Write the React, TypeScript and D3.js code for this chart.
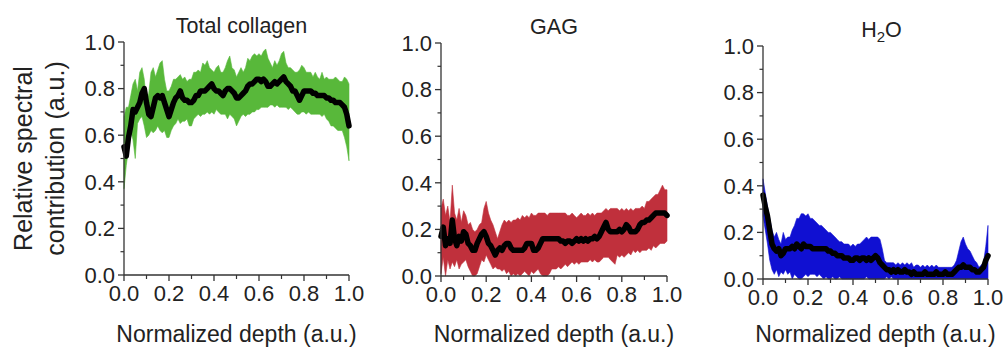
import React from "react";
import * as d3 from "d3";

// ---------- data (step 0.01 in normalized depth) ----------
const DEPTH = [
  0.0, 0.01, 0.02, 0.03, 0.04, 0.05, 0.06, 0.07, 0.08, 0.09,
  0.1, 0.11, 0.12, 0.13, 0.14, 0.15, 0.16, 0.17, 0.18, 0.19,
  0.2, 0.21, 0.22, 0.23, 0.24, 0.25, 0.26, 0.27, 0.28, 0.29,
  0.3, 0.31, 0.32, 0.33, 0.34, 0.35, 0.36, 0.37, 0.38, 0.39,
  0.4, 0.41, 0.42, 0.43, 0.44, 0.45, 0.46, 0.47, 0.48, 0.49,
  0.5, 0.51, 0.52, 0.53, 0.54, 0.55, 0.56, 0.57, 0.58, 0.59,
  0.6, 0.61, 0.62, 0.63, 0.64, 0.65, 0.66, 0.67, 0.68, 0.69,
  0.7, 0.71, 0.72, 0.73, 0.74, 0.75, 0.76, 0.77, 0.78, 0.79,
  0.8, 0.81, 0.82, 0.83, 0.84, 0.85, 0.86, 0.87, 0.88, 0.89,
  0.9, 0.91, 0.92, 0.93, 0.94, 0.95, 0.96, 0.97, 0.98, 0.99, 1.0,
];

const TICK_VALUES = [0, 0.2, 0.4, 0.6, 0.8, 1.0];
const TICK_LABELS = ["0.0", "0.2", "0.4", "0.6", "0.8", "1.0"];
const MINOR_TICKS = [0.1, 0.3, 0.5, 0.7, 0.9];

const COLLAGEN_MEAN = [
  0.55, 0.51, 0.59, 0.64, 0.71, 0.7, 0.72, 0.74, 0.78, 0.8,
  0.74, 0.69, 0.68, 0.72, 0.76, 0.77, 0.76, 0.77, 0.74, 0.71,
  0.68, 0.71, 0.74, 0.76, 0.77, 0.79, 0.76, 0.75, 0.75, 0.74,
  0.74, 0.75, 0.77, 0.77, 0.79, 0.79, 0.79, 0.8, 0.81, 0.82,
  0.8, 0.79, 0.79, 0.78, 0.77, 0.79, 0.8, 0.8, 0.79, 0.78,
  0.76, 0.76, 0.77, 0.78, 0.79, 0.81, 0.82, 0.82, 0.83, 0.84,
  0.84, 0.83, 0.84, 0.83, 0.81, 0.81, 0.82, 0.83, 0.82, 0.83,
  0.84, 0.85, 0.83, 0.82, 0.81, 0.79, 0.79, 0.77, 0.75, 0.77,
  0.79, 0.79, 0.79, 0.79, 0.78, 0.78, 0.77, 0.77, 0.77, 0.77,
  0.76, 0.76, 0.75, 0.75, 0.74, 0.74, 0.74, 0.73, 0.72, 0.69, 0.64,
];
const COLLAGEN_UPPER = [
  0.68, 0.72, 0.72, 0.77, 0.82, 0.84, 0.79, 0.87, 0.89, 0.84,
  0.74, 0.78, 0.87, 0.89, 0.85, 0.88, 0.91, 0.92, 0.84, 0.79,
  0.79, 0.81, 0.84, 0.84, 0.85, 0.86, 0.84, 0.85, 0.83, 0.84,
  0.84, 0.87, 0.87, 0.88, 0.87, 0.91, 0.9, 0.92, 0.89, 0.88,
  0.87, 0.89, 0.9, 0.87, 0.87, 0.89, 0.92, 0.94, 0.89, 0.88,
  0.85, 0.87, 0.89, 0.87, 0.89, 0.93, 0.92, 0.94, 0.95, 0.94,
  0.95, 0.94, 0.96, 0.97, 0.93, 0.91, 0.89, 0.92, 0.9, 0.92,
  0.95, 0.96, 0.91, 0.89, 0.89, 0.88, 0.87, 0.87, 0.88, 0.9,
  0.89, 0.87, 0.87, 0.87, 0.85, 0.87, 0.85, 0.84, 0.87, 0.84,
  0.85, 0.84, 0.84, 0.84, 0.85, 0.84, 0.83, 0.83, 0.85, 0.84, 0.82,
];
const COLLAGEN_LOWER = [
  0.37, 0.47, 0.54, 0.62, 0.58, 0.5, 0.65, 0.67, 0.68, 0.64,
  0.59, 0.6, 0.62, 0.61, 0.62, 0.64, 0.62, 0.61, 0.62, 0.59,
  0.59, 0.62, 0.64, 0.65, 0.67, 0.65, 0.66, 0.66, 0.67, 0.64,
  0.64, 0.67, 0.68, 0.69, 0.68, 0.69, 0.69, 0.7, 0.69, 0.7,
  0.69, 0.71, 0.7, 0.69, 0.69, 0.69, 0.67, 0.69, 0.68, 0.67,
  0.64, 0.66, 0.68, 0.69, 0.68, 0.69, 0.69, 0.7, 0.7, 0.71,
  0.71, 0.72, 0.72, 0.72, 0.72, 0.73, 0.73, 0.72, 0.73, 0.72,
  0.72, 0.72, 0.72, 0.71, 0.72, 0.71, 0.7, 0.69, 0.69, 0.7,
  0.7, 0.69, 0.7, 0.69, 0.69, 0.69, 0.69, 0.69, 0.68, 0.69,
  0.67, 0.66, 0.64, 0.64, 0.63, 0.62, 0.62, 0.62, 0.59, 0.55, 0.49,
];

const GAG_MEAN = [
  0.17, 0.21, 0.13, 0.16, 0.14, 0.24, 0.16, 0.13, 0.17, 0.15,
  0.19, 0.18, 0.14, 0.13, 0.11, 0.11, 0.14, 0.16, 0.18, 0.19,
  0.17, 0.14, 0.13, 0.11, 0.09, 0.11, 0.12, 0.11, 0.13, 0.14,
  0.14, 0.12, 0.11, 0.11, 0.11, 0.11, 0.11, 0.12, 0.14, 0.14,
  0.14, 0.11, 0.11, 0.12, 0.14, 0.16, 0.16, 0.16, 0.16, 0.16,
  0.16, 0.16, 0.16, 0.15, 0.15, 0.14, 0.15, 0.15, 0.14, 0.15,
  0.16, 0.15, 0.16, 0.15, 0.16, 0.15, 0.16, 0.16, 0.17, 0.16,
  0.17, 0.19, 0.21, 0.23, 0.2, 0.19, 0.19, 0.19, 0.19, 0.2,
  0.19, 0.2, 0.22, 0.21, 0.19, 0.19, 0.19, 0.2, 0.22, 0.23,
  0.23, 0.24, 0.24, 0.25, 0.26, 0.27, 0.27, 0.27, 0.27, 0.27, 0.26,
];
const GAG_UPPER = [
  0.29, 0.33, 0.26, 0.3, 0.23, 0.39, 0.27, 0.24, 0.29, 0.23,
  0.28, 0.26, 0.22, 0.23, 0.2, 0.19, 0.2, 0.22, 0.23, 0.29,
  0.32, 0.27, 0.24, 0.22, 0.19, 0.16, 0.19, 0.22, 0.24, 0.23,
  0.24, 0.23, 0.24, 0.24, 0.25, 0.24, 0.26, 0.25, 0.26, 0.25,
  0.27, 0.26, 0.26, 0.27, 0.27, 0.27, 0.27, 0.26, 0.27, 0.27,
  0.27, 0.27, 0.27, 0.27, 0.27, 0.27, 0.26, 0.26, 0.27, 0.26,
  0.25, 0.26, 0.27, 0.26, 0.26, 0.27, 0.26, 0.27, 0.26, 0.27,
  0.27, 0.27, 0.28, 0.29, 0.28, 0.29, 0.29, 0.29, 0.29, 0.28,
  0.29, 0.28, 0.29, 0.28, 0.29, 0.28, 0.29, 0.29, 0.29, 0.3,
  0.29, 0.32, 0.32, 0.33, 0.34, 0.35, 0.35, 0.37, 0.39, 0.37, 0.37,
];
const GAG_LOWER = [
  0.01, 0.08, 0.0, 0.07, 0.03, 0.06, 0.04, 0.07, 0.03, 0.05,
  0.06, 0.07, 0.04, 0.02, 0.0, 0.0, 0.01, 0.04, 0.07, 0.06,
  0.09, 0.07, 0.05, 0.03, 0.04, 0.03, 0.03, 0.02, 0.03, 0.01,
  0.02, 0.0, 0.01, 0.0, 0.01, 0.0, 0.01, 0.02, 0.01, 0.0,
  0.02, 0.01, 0.02, 0.03, 0.01, 0.0, 0.0, 0.0, 0.01, 0.03,
  0.03, 0.03, 0.04, 0.03, 0.04, 0.05, 0.04, 0.05, 0.06, 0.05,
  0.06, 0.05, 0.06, 0.06, 0.06, 0.06, 0.07, 0.06, 0.07, 0.06,
  0.06, 0.07, 0.08, 0.08, 0.08, 0.07, 0.06, 0.05, 0.09, 0.08,
  0.09, 0.08, 0.09, 0.1, 0.09, 0.11, 0.1, 0.11, 0.1, 0.11,
  0.11, 0.11, 0.12, 0.11, 0.13, 0.12, 0.13, 0.14, 0.14, 0.14, 0.15,
];

const H2O_MEAN = [
  0.36, 0.31, 0.27, 0.21, 0.15, 0.13, 0.12, 0.13, 0.1, 0.11,
  0.13, 0.13, 0.13, 0.14, 0.13, 0.15, 0.14, 0.13, 0.15, 0.14,
  0.14, 0.14, 0.13, 0.13, 0.13, 0.13, 0.13, 0.13, 0.13, 0.12,
  0.12, 0.11, 0.11, 0.1, 0.1, 0.1, 0.09, 0.09, 0.09, 0.08,
  0.08, 0.09, 0.09, 0.08, 0.09, 0.09, 0.08, 0.09, 0.08, 0.09,
  0.1, 0.09, 0.07, 0.06, 0.05, 0.04, 0.04, 0.03, 0.04, 0.03,
  0.04, 0.03, 0.03, 0.04, 0.03, 0.03, 0.02, 0.03, 0.02, 0.02,
  0.02, 0.02, 0.03, 0.02, 0.02, 0.02, 0.02, 0.03, 0.02, 0.02,
  0.02, 0.03, 0.02, 0.02, 0.02, 0.03, 0.04, 0.05, 0.05, 0.06,
  0.05, 0.05, 0.05, 0.04, 0.04, 0.03, 0.03, 0.04, 0.05, 0.08, 0.1,
];
const H2O_UPPER = [
  0.43, 0.37, 0.31, 0.26, 0.21, 0.18, 0.2, 0.17, 0.15, 0.2,
  0.17, 0.18, 0.18, 0.21, 0.23, 0.26, 0.26, 0.28, 0.28, 0.27,
  0.28, 0.26, 0.26, 0.25, 0.24, 0.23, 0.23, 0.22, 0.21, 0.2,
  0.2, 0.19, 0.18, 0.17, 0.16, 0.16, 0.15, 0.15, 0.15, 0.14,
  0.15, 0.14, 0.15, 0.15, 0.16, 0.17, 0.18, 0.17, 0.18, 0.18,
  0.18, 0.18, 0.17, 0.13, 0.08, 0.07, 0.07, 0.07, 0.07, 0.06,
  0.07, 0.06, 0.07, 0.06, 0.07, 0.06, 0.07, 0.05, 0.06, 0.06,
  0.05, 0.06, 0.05, 0.06, 0.05, 0.06, 0.05, 0.06, 0.05, 0.05,
  0.05, 0.05, 0.05, 0.05, 0.05, 0.06, 0.08, 0.12, 0.16, 0.18,
  0.15, 0.13, 0.12, 0.1, 0.08, 0.07, 0.05, 0.06, 0.07, 0.14, 0.23,
];
const H2O_LOWER = [
  0.27, 0.21, 0.15, 0.08, 0.04, 0.02, 0.04, 0.01, 0.03, 0.02,
  0.04, 0.02, 0.03, 0.0, 0.02, 0.01, 0.0, 0.0, 0.01, 0.02,
  0.01, 0.02, 0.02, 0.02, 0.01, 0.02, 0.01, 0.0, 0.01, 0.0,
  0.0, 0.01, 0.0, 0.0, 0.01, 0.0, 0.0, 0.0, 0.0, 0.0,
  0.0, 0.0, 0.0, 0.0, 0.0, 0.0, 0.01, 0.0, 0.0, 0.0,
  0.0, 0.0, 0.0, 0.0, 0.0, 0.01, 0.0, 0.01, 0.0, 0.0,
  0.0, 0.0, 0.0, 0.0, 0.0, 0.0, 0.0, 0.0, 0.0, 0.0,
  0.0, 0.0, 0.0, 0.0, 0.0, 0.0, 0.0, 0.0, 0.0, 0.0,
  0.0, 0.0, 0.0, 0.0, 0.0, 0.0, 0.0, 0.0, 0.0, 0.0,
  0.0, 0.0, 0.0, 0.0, 0.0, 0.0, 0.0, 0.0, 0.0, 0.0, 0.0,
];

// ---------- styling / layout ----------
const FONT = "'Liberation Sans', Arial, Helvetica, sans-serif";
const TEXT = "#222";
const AXIS = "#333";

type PanelSpec = {
  title: React.ReactNode;
  mean: number[];
  upper: number[];
  lower: number[];
  fill: string;
  box: { left: number; right: number; top: number; bottom: number };
  titleDx: number;
  showYTitle: boolean;
};

const PANELS: PanelSpec[] = [
  {
    title: "Total collagen",
    mean: COLLAGEN_MEAN,
    upper: COLLAGEN_UPPER,
    lower: COLLAGEN_LOWER,
    fill: "#58b83a",
    box: { left: 124, right: 349, top: 42, bottom: 275 },
    titleDx: 5,
    showYTitle: true,
  },
  {
    title: "GAG",
    mean: GAG_MEAN,
    upper: GAG_UPPER,
    lower: GAG_LOWER,
    fill: "#c0303c",
    box: { left: 441, right: 667, top: 43, bottom: 276 },
    titleDx: 0,
    showYTitle: false,
  },
  {
    title: (
      <>
        H<tspan fontSize={15} dy={5}>2</tspan>
        <tspan dy={-5}>O</tspan>
      </>
    ),
    mean: H2O_MEAN,
    upper: H2O_UPPER,
    lower: H2O_LOWER,
    fill: "#1010d2",
    box: { left: 763, right: 988, top: 46, bottom: 279 },
    titleDx: 6,
    showYTitle: false,
  },
];

function Panel({ spec }: { spec: PanelSpec }) {
  const { box } = spec;
  const x = d3.scaleLinear().domain([0, 1]).range([box.left, box.right]);
  const y = d3.scaleLinear().domain([0, 1]).range([box.bottom, box.top]);
  const idx = DEPTH.map((_, i) => i);
  const area = d3
    .area<number>()
    .x((i) => x(DEPTH[i]))
    .y0((i) => y(spec.lower[i]))
    .y1((i) => y(spec.upper[i]));
  const line = d3
    .line<number>()
    .x((i) => x(DEPTH[i]))
    .y((i) => y(spec.mean[i]));
  const cx = (box.left + box.right) / 2;
  const cy = (box.top + box.bottom) / 2;
  return (
    <g>
      <path d={area(idx) || ""} fill={spec.fill} stroke={spec.fill} strokeWidth={0.6} strokeLinejoin="round" />
      <path
        d={line(idx) || ""}
        fill="none"
        stroke="#000"
        strokeWidth={5.5}
        strokeLinejoin="round"
        strokeLinecap="round"
      />
      {/* y axis */}
      <line x1={box.left} x2={box.left} y1={box.top} y2={box.bottom} stroke={AXIS} strokeWidth={1.3} />
      {TICK_VALUES.map((v, i) => (
        <g key={"yt" + i}>
          <line x1={box.left - 6} x2={box.left} y1={y(v)} y2={y(v)} stroke={AXIS} strokeWidth={1.3} />
          <text x={box.left - 9} y={y(v)} dy="0.35em" textAnchor="end" fontSize={22} fill={TEXT}>
            {TICK_LABELS[i]}
          </text>
        </g>
      ))}
      {MINOR_TICKS.map((v, i) => (
        <line key={"ym" + i} x1={box.left - 3.5} x2={box.left} y1={y(v)} y2={y(v)} stroke={AXIS} strokeWidth={1.2} />
      ))}
      {/* x axis */}
      <line x1={box.left} x2={box.right} y1={box.bottom} y2={box.bottom} stroke={AXIS} strokeWidth={1.3} />
      {TICK_VALUES.map((v, i) => (
        <g key={"xt" + i}>
          <line x1={x(v)} x2={x(v)} y1={box.bottom} y2={box.bottom + 6} stroke={AXIS} strokeWidth={1.3} />
          <text x={x(v)} y={box.bottom + 26} textAnchor="middle" fontSize={22} fill={TEXT}>
            {TICK_LABELS[i]}
          </text>
        </g>
      ))}
      {MINOR_TICKS.map((v, i) => (
        <line key={"xm" + i} x1={x(v)} x2={x(v)} y1={box.bottom} y2={box.bottom + 4} stroke={AXIS} strokeWidth={1.2} />
      ))}
      {/* titles */}
      <text x={cx + spec.titleDx} y={box.top - 9} textAnchor="middle" fontSize={21.5} fill={TEXT}>
        {spec.title}
      </text>
      <text x={cx} y={342} textAnchor="middle" fontSize={23} fill={TEXT}>
        Normalized depth (a.u.)
      </text>
      {spec.showYTitle && (
        <g transform={`translate(0,${cy}) rotate(-90)`}>
          <text x={0} y={32} textAnchor="middle" fontSize={25} fill={TEXT}>
            Relative spectral
          </text>
          <text x={0} y={64} textAnchor="middle" fontSize={25} fill={TEXT}>
            contribution (a.u.)
          </text>
        </g>
      )}
    </g>
  );
}

export default function App() {
  return (
    <svg
      width={1005}
      height={349}
      viewBox="0 0 1005 349"
      style={{ position: "absolute", left: 0, top: 0, background: "#fff", fontFamily: FONT }}
    >
      <rect x={0} y={0} width={1005} height={349} fill="#fff" />
      {PANELS.map((p, i) => (
        <Panel key={i} spec={p} />
      ))}
    </svg>
  );
}
